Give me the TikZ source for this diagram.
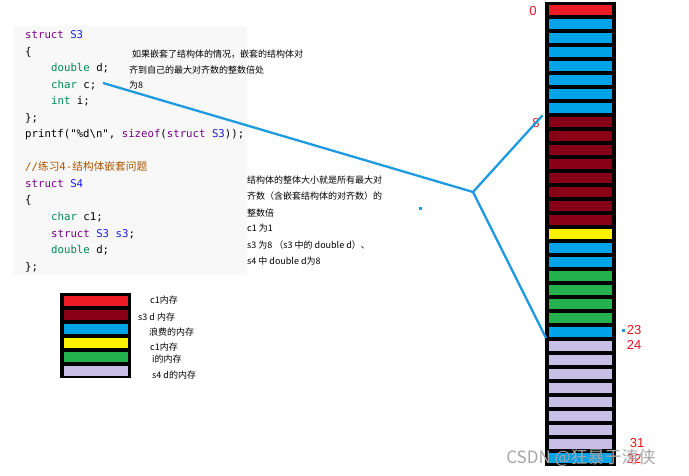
\documentclass[tikz,border=0pt]{standalone}
\usepackage{fontspec}
\setmainfont{Liberation Sans}
\newfontfamily\cjk{Noto Sans CJK SC}
\newfontfamily\codefont{DejaVu Sans Mono}
\usepackage{xcolor}
\definecolor{kwpurple}{HTML}{770088}
\definecolor{namblue}{HTML}{1A1AE6}
\definecolor{typgreen}{HTML}{008855}
\definecolor{cmtbrown}{HTML}{AA5500}
\definecolor{panelgray}{HTML}{F8F8F8}
\definecolor{linkblue}{HTML}{1E9BE0}
\definecolor{cred}{HTML}{ED1C24}
\definecolor{cdark}{HTML}{880015}
\definecolor{cblue}{HTML}{00A2E8}
\definecolor{cyellow}{HTML}{FFF200}
\definecolor{cgreen}{HTML}{22B14C}
\definecolor{clav}{HTML}{C8BFE7}
\definecolor{numred}{HTML}{E8141C}
\usepackage{tikz}
\usetikzlibrary{positioning}

\newcommand{\kw}[1]{{\color{kwpurple}#1}}
\newcommand{\nm}[1]{{\color{namblue}#1}}
\newcommand{\ty}[1]{{\color{typgreen}#1}}

\tikzset{
  codeline/.style={anchor=base west, inner sep=0pt, font=\codefont\fontsize{10.7}{12}\selectfont},
  note/.style={anchor=base west, inner sep=0pt, font=\cjk\fontsize{9}{10}\selectfont},
  cell/.style={draw=black, line width=0.7pt, minimum width=64pt, minimum height=11pt, inner sep=0pt},
  legbox/.style={draw=black, line width=0.7pt, minimum width=65pt, minimum height=11pt, inner sep=0pt},
  num/.style={inner sep=0pt, text=numred, font=\fontsize{13}{13}\selectfont},
  link/.style={draw=linkblue, line width=2.3pt}
}

\begin{document}
\begin{tikzpicture}[x=1pt, y=-1pt]
  \useasboundingbox (0,0) rectangle (689,476);
  \fill[panelgray] (13,26) rectangle (247,275);

  % code of S3 and S4
  \node[codeline] (l1) at (25,39) {\kw{struct} \nm{S3}};
  \node[codeline] (l2) at (25,55.5) {\{};
  \node[codeline] (l3) at (51,72) {\ty{double} d;};
  \node[codeline] (l4) at (51,88.5) {\ty{char} c;};
  \node[codeline] (l5) at (51,105) {\ty{int} i;};
  \node[codeline] (l6) at (25,121.5) {\};};
  \node[codeline] (l7) at (25,138) {printf("\%d\textbackslash n", \kw{sizeof}(\kw{struct} \nm{S3}));};
  \node[codeline] (l8) at (25,171) {\color{cmtbrown}//{\cjk 练习}4-{\cjk 结构体嵌套问题}};
  \node[codeline] (l9) at (25,187.5) {\kw{struct} \nm{S4}};
  \node[codeline] (l10) at (25,204) {\{};
  \node[codeline] (l11) at (51,220.5) {\ty{char} c1;};
  \node[codeline] (l12) at (51,237) {\kw{struct} \nm{S3} \nm{s3};};
  \node[codeline] (l13) at (51,253.5) {\ty{double} d;};
  \node[codeline] (l14) at (25,270) {\};};

  % notes
  \node[note] (n1) at (132,58) {如果嵌套了结构体的情况，嵌套的结构体对};
  \node[note] (n2) at (129,73.5) {齐到自己的最大对齐数的整数倍处};
  \node[note] (n3) at (129,89) {为8};
  \node[note] (r1) at (247,183.5) {结构体的整体大小就是所有最大对};
  \node[note] (r2) at (247,200) {齐数（含嵌套结构体的对齐数）的};
  \node[note] (r3) at (247,216.5) {整数倍};
  \node[note] (r4) at (247,232) {c1 为1};
  \node[note] (r5) at (247,248.5) {s3 为8 （s3 中的 double d）、};
  \node[note] (r6) at (247,265) {s4 中 double d为8};

  % legend
  \fill[black] (60,293) rectangle (131,378);
  \foreach \i/\c in {0/cred,1/cdark,2/cblue,3/cyellow,4/cgreen,5/clav}
    \node[legbox, fill=\c] (k\i) at (96,301+14*\i) {};
  \node[note] at (150,304) {c1内存};
  \node[note] at (138,320) {s3 d 内存};
  \node[note] at (149,335) {浪费的内存};
  \node[note] at (150,350) {c1内存};
  \node[note] at (152,362) {i的内存};
  \node[note] at (152,378) {s4 d的内存};

  % memory column
  \fill[black] (545,2) rectangle (616,466);
  \foreach \i/\c in {0/cred,1/cblue,2/cblue,3/cblue,4/cblue,5/cblue,6/cblue,7/cblue,
      8/cdark,9/cdark,10/cdark,11/cdark,12/cdark,13/cdark,14/cdark,15/cdark,
      16/cyellow,17/cblue,18/cblue,19/cgreen,20/cgreen,21/cgreen,22/cgreen,23/cblue,
      24/clav,25/clav,26/clav,27/clav,28/clav,29/clav,30/clav,31/clav,32/cblue}
    \node[cell, fill=\c] (m\i) at (580.5,10+14*\i) {};
  \node[num] (o0) at (533,11) {0};
  \node[num] (o8) at (536,123) {8};
  \node[num] (o23) at (634,330) {23};
  \node[num] (o24) at (634,345) {24};
  \node[num] (o31) at (637,443) {31};
  \node[num] (o32) at (634,459) {32};

  % links
  \coordinate (charc) at (103,83);
  \coordinate (junc) at (473,192);
  \coordinate (tip8) at (542,116);
  \coordinate (tip24) at (546,338);
  \draw[link] (charc) -- (junc);
  \draw[link, line cap=round] (junc) -- (tip8);
  \draw[link] (junc) -- (tip24);
  \fill[linkblue] (418.5,207) rectangle (421.5,210);
  \fill[linkblue] (622,329) rectangle (625,332);

  % watermark
  \node[inner sep=0pt, text=gray!70, font=\cjk\fontsize{17}{17}\selectfont] (wm) at (581,458) {CSDN @狂暴于涛侠};
\end{tikzpicture}
\end{document}
